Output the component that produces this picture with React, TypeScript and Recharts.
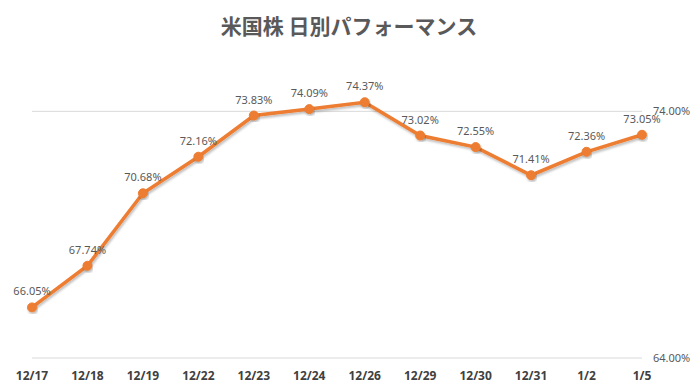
import React from 'react';
import { LineChart, Line, XAxis, YAxis, ReferenceLine, LabelList } from 'recharts';

const categories = ['12/17', '12/18', '12/19', '12/22', '12/23', '12/24', '12/26', '12/29', '12/30', '12/31', '1/2', '1/5'];
const performance = [66.05, 67.74, 70.68, 72.16, 73.83, 74.09, 74.37, 73.02, 72.55, 71.41, 72.36, 73.05];
const yTicks = [64, 74];
const title = '米国株 日別パフォーマンス';

const data = categories.map((c, i) => ({ date: c, value: performance[i] }));

const fmt = (v: number) => `${v.toFixed(2)}%`;

export default function App() {
  return (
    <div style={{ position: 'absolute', left: 0, top: 0, width: 698, height: 392, background: '#fff' }}>
      <div
        style={{
          position: 'absolute',
          left: 0,
          top: 10,
          width: 698,
          textAlign: 'center',
          fontFamily: '"Noto Sans CJK JP", "Noto Sans", sans-serif',
          fontSize: 21,
          fontWeight: 700,
          color: '#595959',
          lineHeight: '30px',
        }}
      >
        {title}
      </div>
      <LineChart
        width={698}
        height={392}
        data={data}
        margin={{ top: 62, right: 0, bottom: 0, left: 32 }}
        style={{ position: 'absolute', left: 0, top: 0 }}
      >
        <defs>
          <filter id="shadow" x="-10%" y="-10%" width="120%" height="130%">
            <feDropShadow dx="1" dy="2" stdDeviation="1.2" floodColor="#000" floodOpacity="0.25" />
          </filter>
        </defs>
        <XAxis
          dataKey="date"
          axisLine={false}
          tickLine={false}
          tickSize={0}
          tickMargin={13}
          height={34}
          interval={0}
          padding={{ left: 0, right: 0 }}
          tick={{ fill: '#404040', fontSize: 12, fontWeight: 700, fontFamily: '"Noto Sans", sans-serif' }}
        />
        <YAxis
          orientation="right"
          domain={[64, 76]}
          ticks={yTicks}
          allowDataOverflow
          axisLine={false}
          tickLine={false}
          tickSize={0}
          tickMargin={11}
          width={56}
          tickFormatter={fmt}
          tick={{ fill: '#595959', fontSize: 11, fontFamily: '"Noto Sans", sans-serif', textAnchor: 'start' }}
        />
        {yTicks.map((t) => (
          <ReferenceLine key={t} y={t} stroke="#d9d9d9" strokeWidth={1} />
        ))}
        <Line
          type="linear"
          dataKey="value"
          stroke="#ED7D31"
          strokeWidth={3.5}
          dot={{ r: 4.5, fill: '#ED7D31', stroke: '#ED7D31', strokeWidth: 1 }}
          activeDot={false}
          isAnimationActive={false}
          filter="url(#shadow)"
        >
          <LabelList
            dataKey="value"
            position="top"
            offset={12}
            formatter={(v: number) => fmt(v)}
            style={{ fill: '#595959', fontSize: 11, fontFamily: '"Noto Sans", sans-serif' }}
          />
        </Line>
      </LineChart>
    </div>
  );
}
